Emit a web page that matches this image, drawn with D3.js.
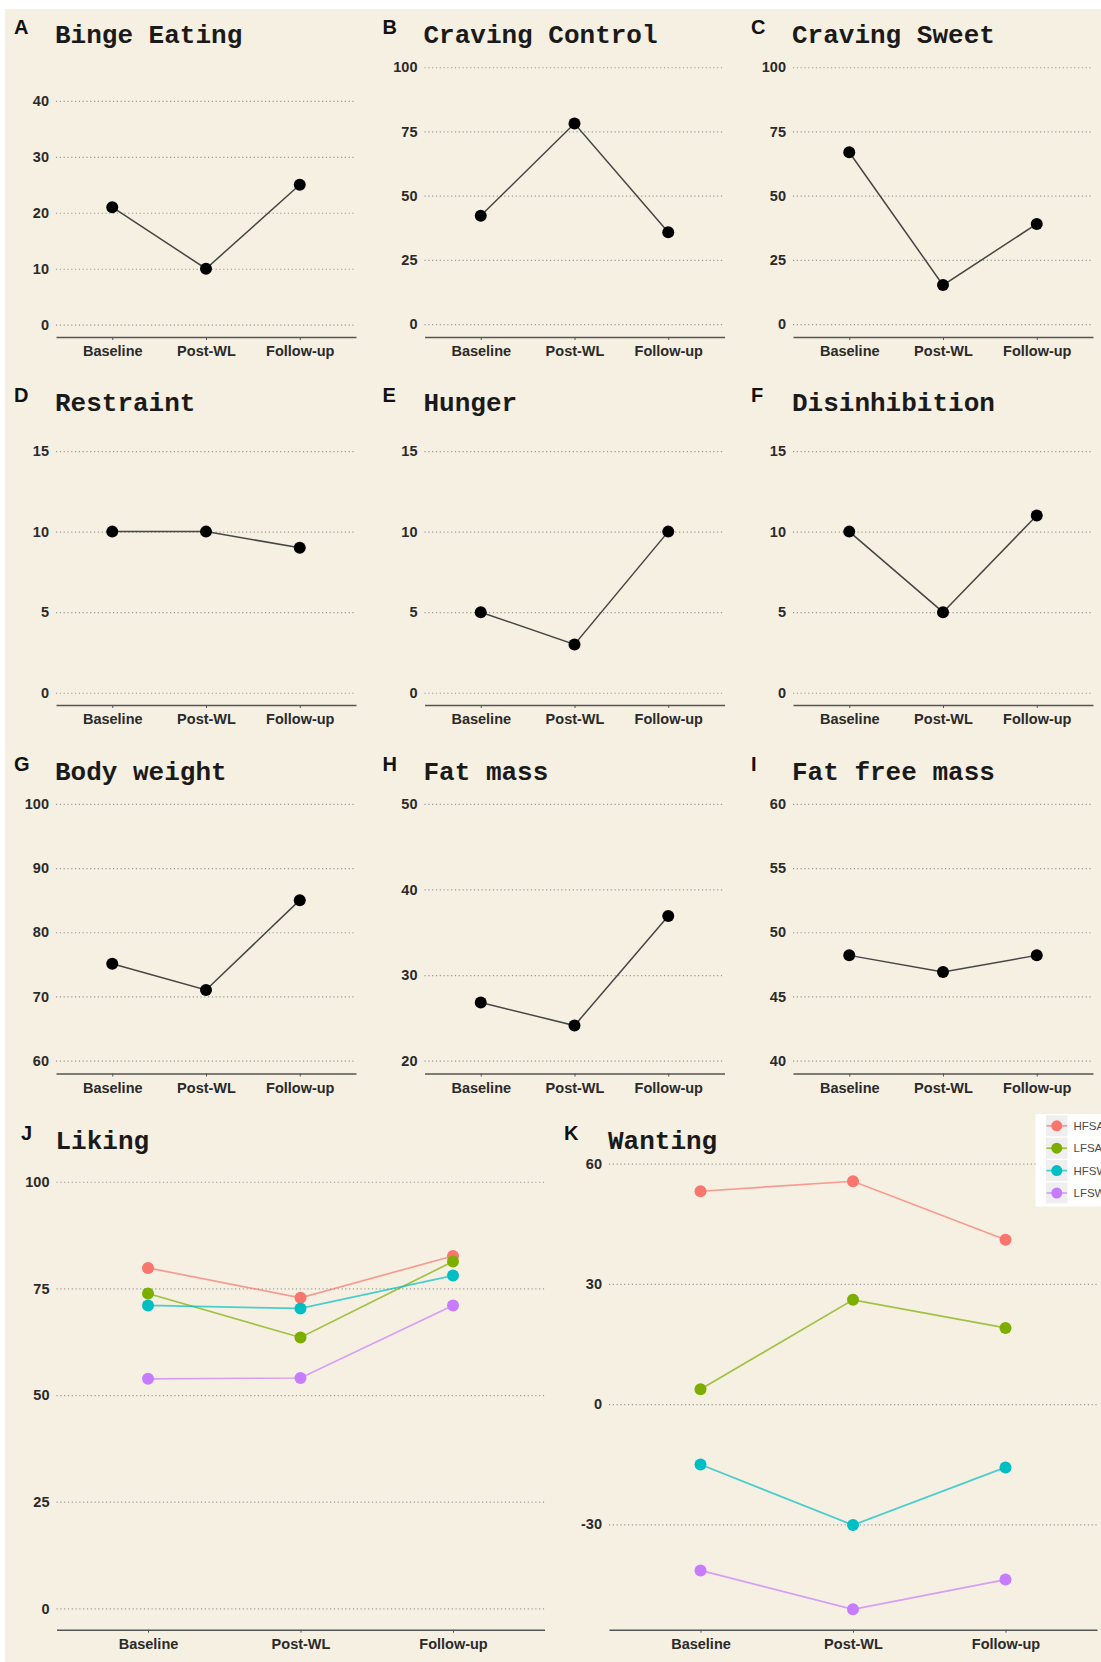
<!DOCTYPE html>
<html>
<head>
<meta charset="utf-8">
<script src="https://cdn.jsdelivr.net/npm/d3@7"></script>
<style>
  html, body { margin: 0; padding: 0; background: #fff; }
  svg { display: block; overflow: hidden; }
</style>
</head>
<body>
<div id="container"></div>
<script>
const stages = ["Baseline", "Post-WL", "Follow-up"];

// single-series panels (A–I)
const bingeEating    = [21, 10, 25];
const cravingControl = [42.2, 78.1, 35.8];
const cravingSweet   = [66.9, 15.2, 39.0];
const restraint      = [10, 10, 9];
const hunger         = [5, 3, 10];
const disinhibition  = [10, 5, 11];
const bodyWeight     = [75.1, 71.0, 85.0];
const fatMass        = [26.8, 24.1, 36.9];
const fatFreeMass    = [48.2, 46.9, 48.2];

// grouped panels (J, K)
const groups      = ["HFSA", "LFSA", "HFSW", "LFSW"];
const likingHFSA  = [79.8, 72.8, 82.6];
const likingLFSA  = [73.8, 63.5, 81.3];
const likingHFSW  = [71.0, 70.3, 78.0];
const likingLFSW  = [53.8, 54.0, 71.0];
const wantingHFSA = [53.1, 55.6, 41.0];
const wantingLFSA = [3.7, 26.0, 19.0];
const wantingHFSW = [-15.1, -30.2, -15.8];
const wantingLFSW = [-41.5, -51.2, -43.8];

// tick labels
const ticks0to40   = [0, 10, 20, 30, 40];
const ticks0to100  = [0, 25, 50, 75, 100];
const ticks0to15   = [0, 5, 10, 15];
const ticks60to100 = [60, 70, 80, 90, 100];
const ticks20to50  = [20, 30, 40, 50];
const ticks40to60  = [40, 45, 50, 55, 60];
const ticksWanting = [-30, 0, 30, 60];

const groupColors = ["#F8766D", "#7CAE00", "#00BFC4", "#C77CFF"];

const width  = 1101;
const height = 1662;
const bg     = "#f6f0e2";

const colLeft   = [56, 424.5, 793];
const colWidth  = 300;
const rowTop    = [54.4, 422.7, 791];
const rowBottom = [337, 705, 1073.5];

const panels = [
  { letter: "A", title: "Binge Eating",    values: bingeEating,    ticks: ticks0to40,   domain: [-2.2, 48.3],   col: 0, row: 0 },
  { letter: "B", title: "Craving Control", values: cravingControl, ticks: ticks0to100,  domain: [-5, 105],      col: 1, row: 0 },
  { letter: "C", title: "Craving Sweet",   values: cravingSweet,   ticks: ticks0to100,  domain: [-5, 105],      col: 2, row: 0 },
  { letter: "D", title: "Restraint",       values: restraint,      ticks: ticks0to15,   domain: [-0.76, 16.76], col: 0, row: 1 },
  { letter: "E", title: "Hunger",          values: hunger,         ticks: ticks0to15,   domain: [-0.76, 16.76], col: 1, row: 1 },
  { letter: "F", title: "Disinhibition",   values: disinhibition,  ticks: ticks0to15,   domain: [-0.76, 16.76], col: 2, row: 1 },
  { letter: "G", title: "Body weight",     values: bodyWeight,     ticks: ticks60to100, domain: [58, 102],      col: 0, row: 2 },
  { letter: "H", title: "Fat mass",        values: fatMass,        ticks: ticks20to50,  domain: [18.5, 51.5],   col: 1, row: 2 },
  { letter: "I", title: "Fat free mass",   values: fatFreeMass,    ticks: ticks40to60,  domain: [39, 61],       col: 2, row: 2 }
];

const svg = d3.select("#container")
  .append("svg")
    .attr("width", width)
    .attr("height", height);

svg.append("rect")
  .attr("x", 5).attr("y", 9)
  .attr("width", width - 5).attr("height", height - 9)
  .attr("fill", bg);

// draws frame of one panel: gridlines, y labels, x axis, title, letter
function drawFrame(g, x, y, ticks, letter, title, letterX) {
  const [x0, x1] = x.range();
  const [y0, y1] = y.range();

  const grid = g.append("g")
    .attr("transform", `translate(${x0},0)`)
    .call(d3.axisLeft(y).tickValues(ticks).tickSize(-(x1 - x0)).tickPadding(7).tickFormat(d => String(d)));
  grid.select(".domain").remove();
  grid.selectAll(".tick line")
    .attr("stroke", "#9a9a9a")
    .attr("stroke-width", 1.2)
    .attr("stroke-dasharray", "1.2,2.6");
  grid.selectAll(".tick text")
    .attr("font-family", "'Liberation Sans', Arial, sans-serif")
    .attr("font-weight", "bold")
    .attr("font-size", 14.5)
    .attr("fill", "#2a2a2a");

  const xa = g.append("g")
    .attr("transform", `translate(0,${y0})`)
    .call(d3.axisBottom(x).tickSize(3).tickSizeOuter(0).tickPadding(6));
  xa.select(".domain").attr("stroke", "#555").attr("stroke-width", 1.6);
  xa.selectAll(".tick line").attr("stroke", "#555").attr("stroke-width", 1);
  xa.selectAll(".tick text")
    .attr("font-family", "'Liberation Sans', Arial, sans-serif")
    .attr("font-weight", "bold")
    .attr("font-size", 14.5)
    .attr("fill", "#2a2a2a");

  g.append("text")
    .attr("x", x0 - 1)
    .attr("y", y1 - 11.5)
    .attr("font-family", "'Liberation Mono', 'Courier New', monospace")
    .attr("font-weight", "bold")
    .attr("font-size", 26)
    .attr("fill", "#1a1a1a")
    .text(title);

  g.append("text")
    .attr("x", letterX)
    .attr("y", y1 - 20.5)
    .attr("font-family", "'Liberation Sans', Arial, sans-serif")
    .attr("font-weight", "bold")
    .attr("font-size", 20)
    .attr("fill", "#111")
    .text(letter);
}

panels.forEach(p => {
  const left = colLeft[p.col];
  const x = d3.scalePoint().domain(stages).range([left, left + colWidth]).padding(0.6);
  const y = d3.scaleLinear().domain(p.domain).range([rowBottom[p.row], rowTop[p.row]]);
  const g = svg.append("g");

  drawFrame(g, x, y, p.ticks, p.letter, p.title, left - 42);

  const pts = stages.map((s, i) => ({ stage: s, value: p.values[i] }));
  g.append("path")
    .datum(pts)
    .attr("fill", "none")
    .attr("stroke", "#454545")
    .attr("stroke-width", 1.5)
    .attr("d", d3.line().x(d => x(d.stage)).y(d => y(d.value)));
  g.selectAll("circle")
    .data(pts)
    .join("circle")
      .attr("cx", d => x(d.stage))
      .attr("cy", d => y(d.value))
      .attr("r", 6)
      .attr("fill", "#000");
});

// bottom row
const groupPanels = [
  { letter: "J", title: "Liking",  series: [likingHFSA, likingLFSA, likingHFSW, likingLFSW],     ticks: ticks0to100,  domain: [-5, 105],      left: 56.5, letterX: 21 },
  { letter: "K", title: "Wanting", series: [wantingHFSA, wantingLFSA, wantingHFSW, wantingLFSW], ticks: ticksWanting, domain: [-56.3, 60.8],  left: 609,  letterX: 564 }
];
const bottomTop = 1160.4, bottomBottom = 1629.7, bottomWidth = 488;

groupPanels.forEach(p => {
  const x = d3.scalePoint().domain(stages).range([p.left, p.left + bottomWidth]).padding(0.6);
  const y = d3.scaleLinear().domain(p.domain).range([bottomBottom, bottomTop]);
  const g = svg.append("g");

  drawFrame(g, x, y, p.ticks, p.letter, p.title, p.letterX);

  const line = d3.line().x(d => x(d.stage)).y(d => y(d.value));
  p.series.forEach((vals, k) => {
    const pts = stages.map((s, i) => ({ stage: s, value: vals[i] }));
    g.append("path")
      .datum(pts)
      .attr("fill", "none")
      .attr("stroke", groupColors[k])
      .attr("stroke-opacity", 0.7)
      .attr("stroke-width", 1.7)
      .attr("d", line);
    g.append("g").selectAll("circle")
      .data(pts)
      .join("circle")
        .attr("cx", d => x(d.stage))
        .attr("cy", d => y(d.value))
        .attr("r", 6)
        .attr("fill", groupColors[k]);
  });
});

// legend (cut by the right edge, as in the source)
const legend = svg.append("g").attr("transform", "translate(1035.5,1114)");
legend.append("rect")
  .attr("width", 120).attr("height", 92.5)
  .attr("fill", "#fff");
groups.forEach((name, k) => {
  const cy = 11.8 + k * 22.4;
  const row = legend.append("g");
  row.append("rect")
    .attr("x", 10.5).attr("y", cy - 10.5)
    .attr("width", 21.5).attr("height", 21)
    .attr("fill", "#efefef");
  row.append("line")
    .attr("x1", 11).attr("x2", 31.5)
    .attr("y1", cy).attr("y2", cy)
    .attr("stroke", groupColors[k])
    .attr("stroke-opacity", 0.7)
    .attr("stroke-width", 1.7);
  row.append("circle")
    .attr("cx", 21.25).attr("cy", cy)
    .attr("r", 5.5)
    .attr("fill", groupColors[k]);
  row.append("text")
    .attr("x", 38).attr("y", cy)
    .attr("dy", "0.35em")
    .attr("font-family", "'Liberation Sans', Arial, sans-serif")
    .attr("font-size", 11.5)
    .attr("fill", "#4a4a4a")
    .text(name);
});
</script>
</body>
</html>
